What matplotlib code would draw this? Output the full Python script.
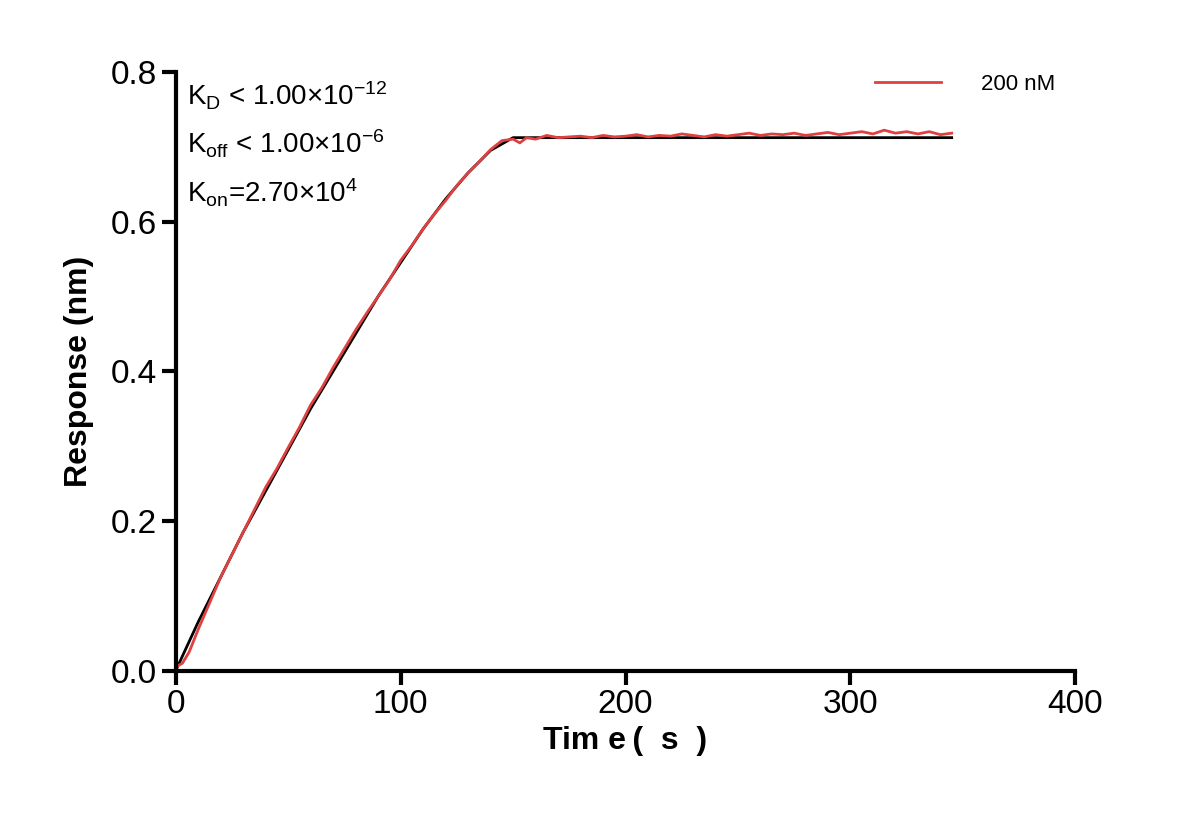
import matplotlib
matplotlib.use("Agg")
import matplotlib.pyplot as plt

plt.rcParams["font.family"] = "Liberation Sans"
plt.rcParams["mathtext.fontset"] = "custom"
plt.rcParams["mathtext.rm"] = "Liberation Sans"
plt.rcParams["mathtext.it"] = "Liberation Sans"
plt.rcParams["axes.unicode_minus"] = False

# fitted curve (black)
fit_t = [0, 10, 20, 30, 40, 50, 60, 70, 80, 90, 100, 110, 120, 130, 140, 150, 345]
fit_r = [0.0, 0.065, 0.125, 0.185, 0.24, 0.295, 0.35, 0.40, 0.45, 0.50, 0.545, 0.59, 0.63, 0.665, 0.695, 0.712, 0.712]

# measured curve (red)
obs_t = [0, 3, 6, 10, 15, 20, 25, 30, 35, 40, 45, 50, 55, 60, 65, 70, 75, 80, 85, 90, 95, 100,
         105, 110, 115, 120, 125, 130, 135, 140, 145, 150, 153, 156, 160, 165, 170, 175, 180,
         185, 190, 195, 200, 205, 210, 215, 220, 225, 230, 235, 240, 245, 250, 255, 260, 265,
         270, 275, 280, 285, 290, 295, 300, 305, 310, 315, 320, 325, 330, 335, 340, 345]
obs_r = [0.005, 0.01, 0.025, 0.055, 0.09, 0.125, 0.155, 0.185, 0.215, 0.245, 0.27, 0.298, 0.325,
         0.355, 0.378, 0.405, 0.43, 0.455, 0.478, 0.50, 0.522, 0.548, 0.568, 0.59, 0.61, 0.628,
         0.648, 0.665, 0.68, 0.696, 0.708, 0.71, 0.705, 0.712, 0.71, 0.715, 0.712, 0.713, 0.714,
         0.712, 0.715, 0.713, 0.714, 0.716, 0.713, 0.715, 0.714, 0.717, 0.715, 0.713, 0.716,
         0.714, 0.716, 0.718, 0.715, 0.717, 0.716, 0.718, 0.715, 0.717, 0.719, 0.716, 0.718,
         0.72, 0.717, 0.722, 0.718, 0.72, 0.717, 0.72, 0.716, 0.718]

fig = plt.figure(figsize=(11.87, 8.25), dpi=100)
ax = fig.add_axes([0.148, 0.187, 0.758, 0.726])
ax.plot(fit_t, fit_r, color="black", lw=2)
ax.plot(obs_t, obs_r, color="#e04040", lw=2, label="200 nM")

ax.set_xlim(0, 400)
ax.set_ylim(0, 0.8)
ax.set_xticks([0, 100, 200, 300, 400])
ax.set_yticks([0, 0.2, 0.4, 0.6, 0.8])
ax.set_yticklabels(["0.0", "0.2", "0.4", "0.6", "0.8"])
for s in ["top", "right"]:
    ax.spines[s].set_visible(False)
for s in ["left", "bottom"]:
    ax.spines[s].set_linewidth(3)
ax.tick_params(width=3, length=10, labelsize=24)
ax.set_xlabel("Tim e\u2009(  s  )", fontsize=23, fontweight="bold", labelpad=4)
ax.set_ylabel("Response (nm)", fontsize=23, fontweight="bold", labelpad=12)

ax.text(5, 0.79, r"K$_\mathrm{D}$ < 1.00×10$^\mathrm{-12}$", fontsize=20, va="top")
ax.text(5, 0.725, r"K$_\mathrm{off}$ < 1.00×10$^\mathrm{-6}$", fontsize=20, va="top")
ax.text(5, 0.66, r"K$_\mathrm{on}$=2.70×10$^\mathrm{4}$", fontsize=20, va="top")

ax.legend(loc="upper right", frameon=False, fontsize=16, handlelength=3, handletextpad=1.8,
          bbox_to_anchor=(1.0, 1.03))
fig.savefig("out.png", dpi=100)
